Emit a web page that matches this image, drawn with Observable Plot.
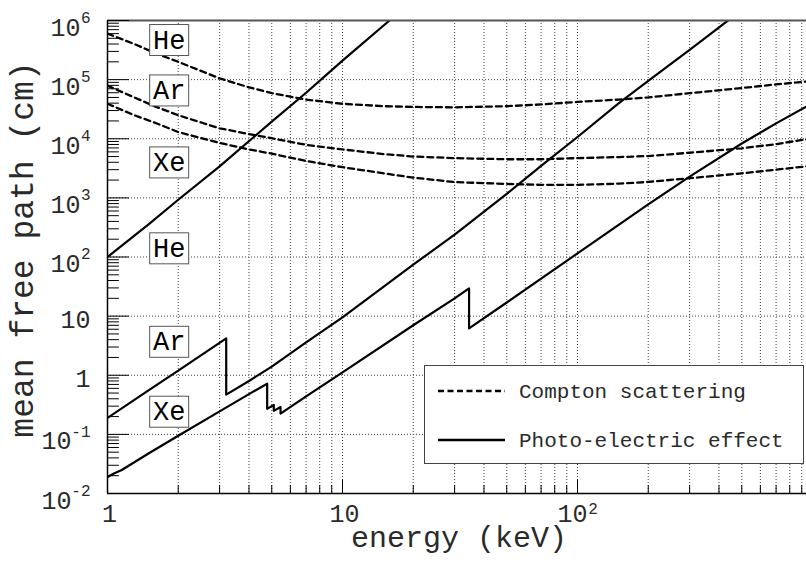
<!DOCTYPE html>
<html>
<head>
<meta charset="utf-8">
<script src="https://cdn.jsdelivr.net/npm/d3@7"></script>
<script src="https://cdn.jsdelivr.net/npm/@observablehq/plot@0.6"></script>
<style>
  html, body { margin: 0; padding: 0; background: #fff; overflow: hidden; }
</style>
</head>
<body>
<div id="chart"></div>
<script>
const FONT = "'Liberation Mono', 'DejaVu Sans Mono', monospace";

// Compton scattering: mean free path (cm) against photon energy (keV)
const comptonEnergy = [1, 1.3, 1.6, 2, 3, 4, 5, 7, 10, 15, 20, 30, 50, 70, 100, 150, 200, 300, 500, 700, 1000];
const comptonHe = [6.0e5, 4.0e5, 2.8e5, 2.0e5, 1.05e5, 7.4e4, 5.9e4, 4.6e4, 3.9e4, 3.55e4, 3.45e4, 3.4e4, 3.55e4, 3.8e4, 4.2e4, 4.6e4, 5.0e4, 5.9e4, 7.2e4, 8.3e4, 9.5e4];
const comptonAr = [7.9e4, 5.0e4, 3.5e4, 2.5e4, 1.5e4, 1.2e4, 1.02e4, 7.9e3, 6.6e3, 5.5e3, 5.0e3, 4.7e3, 4.5e3, 4.5e3, 4.7e3, 4.9e3, 5.1e3, 5.8e3, 6.9e3, 8.1e3, 1.02e4];
const comptonXe = [3.9e4, 2.5e4, 1.85e4, 1.3e4, 8.5e3, 6.6e3, 5.6e3, 4.2e3, 3.3e3, 2.6e3, 2.2e3, 1.85e3, 1.72e3, 1.66e3, 1.66e3, 1.74e3, 1.86e3, 2.15e3, 2.6e3, 3.0e3, 3.5e3];

// Photo-electric absorption, with the K and L absorption edges
const photoHeEnergy = [1, 1.5, 2, 3, 5, 7, 10, 15, 20];
const photoHe = [100, 360, 930, 3400, 1.95e4, 6.0e4, 2.1e5, 8.3e5, 2.2e6];
const photoArEnergy = [1, 1.5, 2, 3.2, 3.2, 4, 5, 7, 10, 20, 30, 50, 70, 100, 150, 200, 300, 500];
const photoAr = [0.19, 0.56, 1.2, 4.2, 0.47, 0.80, 1.4, 3.6, 9.5, 74, 240, 1170, 3470, 1.07e4, 4.0e4, 9.5e4, 3.2e5, 1.5e6];
const photoXeEnergy = [1, 1.07, 1.15, 1.5, 2, 3, 4, 4.78, 4.78, 5.1, 5.1, 5.45, 5.45, 7, 10, 20, 30, 34.56, 34.56, 50, 100, 200, 300, 500, 700, 1000];
const photoXe = [0.019, 0.022, 0.025, 0.048, 0.095, 0.245, 0.48, 0.72, 0.27, 0.315, 0.25, 0.29, 0.225, 0.44, 1.12, 7.0, 20, 29.5, 6.2, 17, 115, 776, 2290, 8300, 1.82e4, 4.0e4];

// Axis ticks and labels
const yTickValues = [1e-2, 1e-1, 1, 10, 1e2, 1e3, 1e4, 1e5, 1e6];
const yTickBase = ["10", "10", "1", "10", "10", "10", "10", "10", "10"];
const yTickExp = ["-2", "-1", "", "", "2", "3", "4", "5", "6"];
const xTickValues = [1, 10, 100];
const xTickBase = ["1", "10", "10"];
const xTickExp = ["", "", "2"];

// Gas name tags placed next to each family of curves
const gasNames = ["He", "Ar", "Xe", "He", "Ar", "Xe"];
const gasTagEnergy = [1.83, 1.83, 1.83, 1.83, 1.83, 1.83];
const gasTagMfp = [4.7e5, 6.6e4, 4.0e3, 141, 3.7, 0.243];

const series = (energy, mfp, gas, process) =>
  energy.map((e, i) => ({energy: e, mfp: mfp[i], gas, process}));

const compton = [
  ...series(comptonEnergy, comptonHe, "He", "compton"),
  ...series(comptonEnergy, comptonAr, "Ar", "compton"),
  ...series(comptonEnergy, comptonXe, "Xe", "compton")
];
const photo = [
  ...series(photoHeEnergy, photoHe, "He", "photo"),
  ...series(photoArEnergy, photoAr, "Ar", "photo"),
  ...series(photoXeEnergy, photoXe, "Xe", "photo")
];

const decades = (from, to) => {
  const out = [];
  for (let p = from; p < to; p++) for (let m = 2; m <= 9; m++) out.push(m * 10 ** p);
  return out;
};
const xMinor = decades(0, 3);
const xGrid = [...xMinor, 10, 100];
const xMajor = [10, 100];
const yMinor = decades(-2, 6);
const yGrid = [1e-1, 1, 10, 1e2, 1e3, 1e4, 1e5];

const yLabels = yTickValues.map((v, i) => ({v, base: yTickBase[i], exp: yTickExp[i]}));
const xLabels = xTickValues.map((v, i) => ({v, base: xTickBase[i], exp: xTickExp[i]}));
const tags = gasNames.map((g, i) => ({gas: g, energy: gasTagEnergy[i], mfp: gasTagMfp[i]}));

// a plain straight tick drawn by the vector mark
const tickShape = {draw(context, l) { context.moveTo(0, 0); context.lineTo(0, -l); }};
const ink = "#2a2a2a";

const plot = Plot.plot({
  width: 806,
  height: 562,
  marginLeft: 107,
  marginRight: 0,
  marginTop: 20,
  marginBottom: 69,
  style: {fontFamily: FONT, background: "white"},
  x: {type: "log", domain: [1, 1000], range: [107, 812], axis: null},
  y: {type: "log", domain: [1e-2, 1e6], range: [493, 20], axis: null},
  marks: [
    Plot.ruleX(xGrid, {x: d => d, stroke: "#444", strokeWidth: 1, strokeDasharray: "1,2"}),
    Plot.ruleY(yGrid, {y: d => d, stroke: "#444", strokeWidth: 1, strokeDasharray: "1,2"}),
    Plot.line(compton, {x: "energy", y: "mfp", z: "gas", stroke: "black", strokeWidth: 2.3, strokeDasharray: "6,4", clip: true}),
    Plot.line(photo, {x: "energy", y: "mfp", z: "gas", stroke: "black", strokeWidth: 2.2, clip: true}),
    Plot.ruleY([1e6], {y: d => d, stroke: "#555", strokeWidth: 2}),
    Plot.ruleX([1], {x: d => d, stroke: "black", strokeWidth: 1.5}),
    Plot.ruleY([1e-2], {y: d => d, stroke: "black", strokeWidth: 1.5}),
    Plot.vector(yMinor, {y: d => d, frameAnchor: "left", length: 11, rotate: 90, anchor: "start", shape: tickShape, stroke: "black", strokeWidth: 1}),
    Plot.vector(yTickValues, {y: d => d, frameAnchor: "left", length: 21, rotate: 90, anchor: "start", shape: tickShape, stroke: "black", strokeWidth: 1}),
    Plot.vector(xMinor, {x: d => d, frameAnchor: "bottom", length: 8, rotate: 0, anchor: "start", shape: tickShape, stroke: "black", strokeWidth: 1}),
    Plot.vector(xMajor, {x: d => d, frameAnchor: "bottom", length: 13, rotate: 0, anchor: "start", shape: tickShape, stroke: "black", strokeWidth: 1}),
    // y tick labels: base and raised exponent
    Plot.text(yLabels.filter(d => d.exp.length === 0), {y: "v", text: "base", frameAnchor: "left", textAnchor: "end", dx: -17, dy: 4, fontSize: 25, fill: ink}),
    Plot.text(yLabels.filter(d => d.exp.length === 1), {y: "v", text: "base", frameAnchor: "left", textAnchor: "end", dx: -27, dy: 7, fontSize: 25, fill: ink}),
    Plot.text(yLabels.filter(d => d.exp.length === 2), {y: "v", text: "base", frameAnchor: "left", textAnchor: "end", dx: -36, dy: 7, fontSize: 25, fill: ink}),
    Plot.text(yLabels.filter(d => d.exp.length > 0), {y: "v", text: "exp", frameAnchor: "left", textAnchor: "end", dx: -17, dy: -3, fontSize: 16, fill: ink}),
    // x tick labels
    Plot.text(xLabels.filter(d => !d.exp), {x: "v", text: "base", frameAnchor: "bottom", textAnchor: "middle", dx: 2, dy: 28.5, fontSize: 25, fill: ink}),
    Plot.text(xLabels.filter(d => d.exp), {x: "v", text: "base", frameAnchor: "bottom", textAnchor: "middle", dx: -5, dy: 28.5, fontSize: 25, fill: ink}),
    Plot.text(xLabels.filter(d => d.exp), {x: "v", text: "exp", frameAnchor: "bottom", textAnchor: "middle", dx: 15.5, dy: 20.5, fontSize: 16, fill: ink}),
    // axis titles
    Plot.text(["energy (keV)"], {text: d => d, frameAnchor: "bottom", textAnchor: "middle", dx: 2, dy: 53, fontSize: 30, fill: ink}),
    Plot.text(["mean free path (cm)"], {text: d => d, frameAnchor: "left", textAnchor: "middle", rotate: -90, dx: -85, dy: -7.5, fontSize: 33, fill: ink}),
    // gas tags
    Plot.text(tags, {x: "energy", y: "mfp", text: "gas", textAnchor: "middle", fontSize: 27, fill: "black", ariaDescription: "gas tags"})
  ]
});

document.getElementById("chart").append(plot);

// framed white boxes behind the gas tags
const NS = "http://www.w3.org/2000/svg";
const tagGroup = plot.querySelector('g[aria-description="gas tags"]');
if (tagGroup) {
  tagGroup.querySelectorAll("text").forEach(t => {
    const b = t.getBBox();
    const fs = 27;
    const cx = b.x + b.width / 2;
    const cy = b.y + 0.5 * fs;
    const r = document.createElementNS(NS, "rect");
    r.setAttribute("x", cx - 19.5);
    r.setAttribute("y", cy - 15.5);
    r.setAttribute("width", 39);
    r.setAttribute("height", 31);
    r.setAttribute("fill", "white");
    r.setAttribute("stroke", "#555");
    r.setAttribute("stroke-width", 1);
    if (t.getAttribute("transform")) r.setAttribute("transform", t.getAttribute("transform"));
    t.parentNode.insertBefore(r, t);
  });
}

// legend box
const svg = d3.select(plot);
const legend = svg.append("g")
  .attr("font-family", FONT)
  .attr("font-size", 21)
  .attr("text-anchor", "start");
legend.append("rect")
  .attr("x", 424.5).attr("y", 365.5).attr("width", 379).attr("height", 98)
  .attr("fill", "white").attr("stroke", "#444").attr("stroke-width", 1);
const entries = [
  {label: "Compton scattering", dash: "6,3.5", y: 391},
  {label: "Photo-electric effect", dash: null, y: 440}
];
entries.forEach(e => {
  legend.append("line")
    .attr("x1", 438).attr("x2", 505).attr("y1", e.y).attr("y2", e.y)
    .attr("stroke", "black").attr("stroke-width", 2.3)
    .attr("stroke-dasharray", e.dash);
  legend.append("text")
    .attr("x", 519).attr("y", e.y + 7)
    .attr("text-anchor", "start")
    .attr("fill", ink)
    .text(e.label);
});
</script>
</body>
</html>
